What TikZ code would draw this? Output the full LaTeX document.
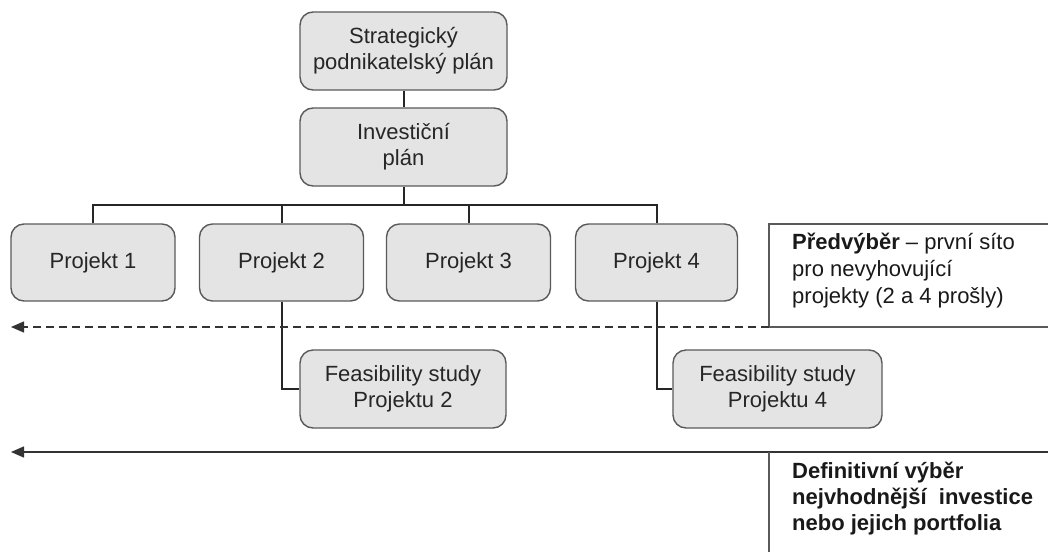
\documentclass[tikz,border=0pt]{standalone}
\usepackage{fontspec}
\setmainfont{Liberation Sans}
\usetikzlibrary{arrows.meta}
\definecolor{boxfill}{HTML}{E4E4E4}
\definecolor{boxline}{HTML}{5A5A5A}
\definecolor{conn}{HTML}{262626}
\begin{document}
\begin{tikzpicture}[x=1pt,y=-1pt,
  box/.style={draw=boxline, line width=1.4pt, fill=boxfill, rounded corners=13pt,
    minimum width=#1, minimum height=78pt, align=center, inner sep=2pt,
    font=\fontsize{22}{26}\selectfont, text=black!85},
  box/.default=207pt,
  tree/.style={draw=conn, line width=2pt},
  sel/.style={draw=boxline, line width=1.4pt},
  arr/.style={draw=black!80, line width=1.4pt, -{Triangle[length=13pt,width=11pt]}},
  lbl/.style={anchor=north west, align=left, inner sep=0pt,
    font=\fontsize{22}{27}\selectfont, text=black!90}]
\useasboundingbox (0,0) rectangle (1048,552);
\fill[white] (0,0) rectangle (1048,552);

\node[box] (strat) at (403.5,51) {Strategický\\podnikatelský plán};
\node[box] (inv) at (403.5,147) {Investiční\\plán};

\node[box=164pt, minimum height=77pt] (p1) at (93,262.5) {Projekt 1};
\node[box=164pt, minimum height=77pt] (p2) at (281.5,262.5) {Projekt 2};
\node[box=164pt, minimum height=77pt] (p3) at (468.5,262.5) {Projekt 3};
\node[box=162pt, minimum height=77pt] (p4) at (656.5,262.5) {Projekt 4};

\node[box=206pt] (f2) at (403,389) {Feasibility study\\Projektu 2};
\node[box=209pt] (f4) at (777.5,389) {Feasibility study\\Projektu 4};

\coordinate (bar) at (403.5,205);
\draw[tree] (strat) -- (inv);
\draw[tree] (inv) -- (bar);
\draw[tree] (p1.north) -- (p1.north |- bar) -- (p4.north |- bar) -- (p4.north);
\draw[tree] (p2.north) -- (p2.north |- bar);
\draw[tree] (p3.north) -- (p3.north |- bar);
\draw[tree] (p2.south) |- (f2.west);
\draw[tree] (p4.south) |- (f4.west);

% pre-selection box and dashed arrow
\coordinate (sTR) at (1050,224);
\coordinate (sTL) at (769,224);
\coordinate (sBL) at (769,327);
\coordinate (sBR) at (1050,327);
\coordinate (dEnd) at (11,327);
\draw[sel] (sTR) -- (sTL) -- (sBL) -- (sBR);
\draw[arr, dash pattern=on 8pt off 5pt] (sBL) -- (dEnd);
\node[lbl] (pred) at (792,233) {\textbf{Předvýběr} – první síto\\pro nevyhovující\\projekty (2 a 4 prošly)};

% definitive selection
\coordinate (aR) at (1050,452);
\coordinate (aEnd) at (11,452);
\coordinate (vT) at (769,452);
\coordinate (vB) at (769,552);
\draw[arr] (aR) -- (aEnd);
\draw[sel] (vT) -- (vB);
\node[lbl, font=\fontsize{22}{26}\selectfont\bfseries] (defin) at (792,462) {Definitivní výběr\\nejvhodnější\ \ investice\\nebo jejich portfolia};
\end{tikzpicture}
\end{document}
